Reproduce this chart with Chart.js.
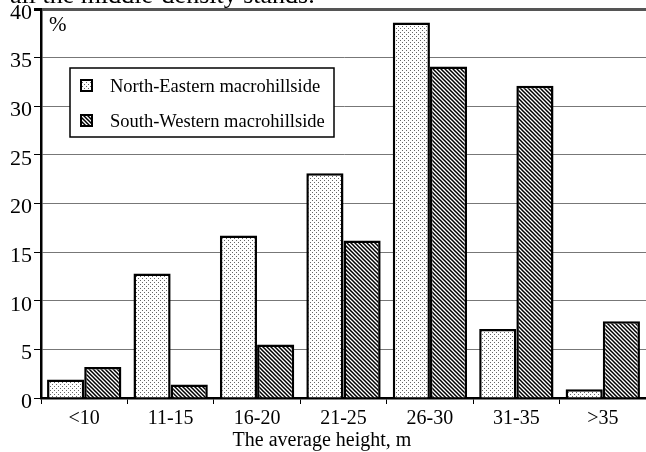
<!DOCTYPE html>
<html>
<head>
<meta charset="utf-8">
<script src="https://cdn.jsdelivr.net/npm/chart.js@4"></script>
<style>
  body { margin: 0; background: #fff; overflow: hidden; }
  #wrap { position: relative; width: 646px; height: 452px; overflow: hidden; }
  #cap { position: absolute; left: 10px; top: -18px; font: 26px/26px 'Liberation Serif', serif; color: #000; white-space: nowrap; }
  canvas { position: absolute; left: 0; top: 0; }
</style>
</head>
<body>
<div id="wrap">
  <canvas id="grafico" width="646" height="452"></canvas>
  <div id="cap">all the middle-density stands.</div>
</div>
<script>
const categorias = ['<10', '11-15', '16-20', '21-25', '26-30', '31-35', '>35'];
const nordeste = [1.9, 12.8, 16.7, 23.1, 38.6, 7.1, 0.9];
const sudoeste = [3.2, 1.4, 5.5, 16.2, 34.1, 32.1, 7.9];
const nomes = ['North-Eastern macrohillside', 'South-Western macrohillside'];
const titulo_x = 'The average height, m';
const fonte = "'Liberation Serif', 'Times New Roman', serif";

function padrao_pontos() {
    const c = document.createElement('canvas');
    c.width = 4; c.height = 4;
    const g = c.getContext('2d');
    g.fillStyle = '#fff'; g.fillRect(0, 0, 4, 4);
    g.fillStyle = '#666';
    g.fillRect(0, 0, 1, 1);
    g.fillRect(2, 2, 1, 1);
    return g.createPattern(c, 'repeat');
}

function padrao_listras() {
    const c = document.createElement('canvas');
    c.width = 4; c.height = 4;
    const g = c.getContext('2d');
    g.fillStyle = '#fff'; g.fillRect(0, 0, 4, 4);
    g.strokeStyle = '#000'; g.lineWidth = 1.5;
    g.beginPath();
    g.moveTo(-1, -1); g.lineTo(5, 5);
    g.moveTo(-1, 3); g.lineTo(1, 5);
    g.moveTo(3, -1); g.lineTo(5, 1);
    g.stroke();
    return g.createPattern(c, 'repeat');
}

const fundos = [padrao_pontos(), padrao_listras()];

// legenda, "%" e titulo do eixo x desenhados a mao
const legenda_interna = {
    id: 'legenda_interna',
    afterDatasetsDraw(chart) {
        const ctx = chart.ctx;
        ctx.save();
        ctx.fillStyle = '#000';
        ctx.textBaseline = 'alphabetic';
        ctx.font = '21px ' + fonte;
        ctx.fillText('%', 49, 31);
        ctx.font = '20px ' + fonte;
        ctx.textAlign = 'center';
        ctx.fillText(titulo_x, 322, 446);
        ctx.textAlign = 'left';
        ctx.fillStyle = '#fff';
        ctx.fillRect(70, 68, 264, 69);
        ctx.strokeStyle = '#000'; ctx.lineWidth = 1.5;
        ctx.strokeRect(70, 68, 264, 69);
        ctx.font = '18.5px ' + fonte;
        chart.data.datasets.forEach(function(ds, i) {
            const y = 80 + i * 35;
            ctx.fillStyle = ds.backgroundColor;
            ctx.fillRect(81, y, 11, 11);
            ctx.lineWidth = 2;
            ctx.strokeStyle = '#000';
            ctx.strokeRect(81, y, 11, 11);
            ctx.fillStyle = '#000';
            ctx.fillText(ds.label, 110, y + 12);
        });
        ctx.restore();
    }
};

const ctx = document.getElementById('grafico').getContext('2d');
const myChart = new Chart(ctx, {
    type: 'bar',
    data: {
        labels: categorias,
        datasets: [{
            label: nomes[0],
            data: nordeste,
            backgroundColor: fundos[0],
            borderColor: '#000',
            borderWidth: 2.5
        }, {
            label: nomes[1],
            data: sudoeste,
            backgroundColor: fundos[1],
            borderColor: '#000',
            borderWidth: 2.5
        }]
    },
    options: {
        responsive: false,
        animation: false,
        devicePixelRatio: 1,
        layout: { padding: { left: 0, right: 0, top: 0, bottom: 0 } },
        datasets: { bar: { barPercentage: 1, categoryPercentage: 0.86 } },
        plugins: {
            legend: { display: false },
            tooltip: { enabled: false }
        },
        scales: {
            y: {
                min: 0, max: 40,
                afterFit: function(s) { s.width = 41; s.paddingTop = 9; },
                ticks: { stepSize: 5, color: '#000', font: { family: fonte, size: 22, lineHeight: 0.8 }, padding: 2, labelOffset: 4 },
                grid: {
                    color: function(c) { return c.tick && c.tick.value === 40 ? '#555' : '#777'; },
                    lineWidth: function(c) { return c.tick && c.tick.value === 40 ? 3 : 1; },
                    tickLength: 7,
                    tickColor: '#000'
                },
                border: { color: '#000', width: 2.5 }
            },
            x: {
                offset: true,
                afterFit: function(s) { s.height = 54; },
                ticks: { color: '#000', font: { family: fonte, size: 20 }, padding: 3 },
                grid: { offset: true, drawOnChartArea: false, tickLength: 6, tickColor: '#000', lineWidth: 1 },
                border: { color: '#000', width: 2.5 }
            }
        }
    },
    plugins: [legenda_interna]
});
</script>
</body>
</html>
